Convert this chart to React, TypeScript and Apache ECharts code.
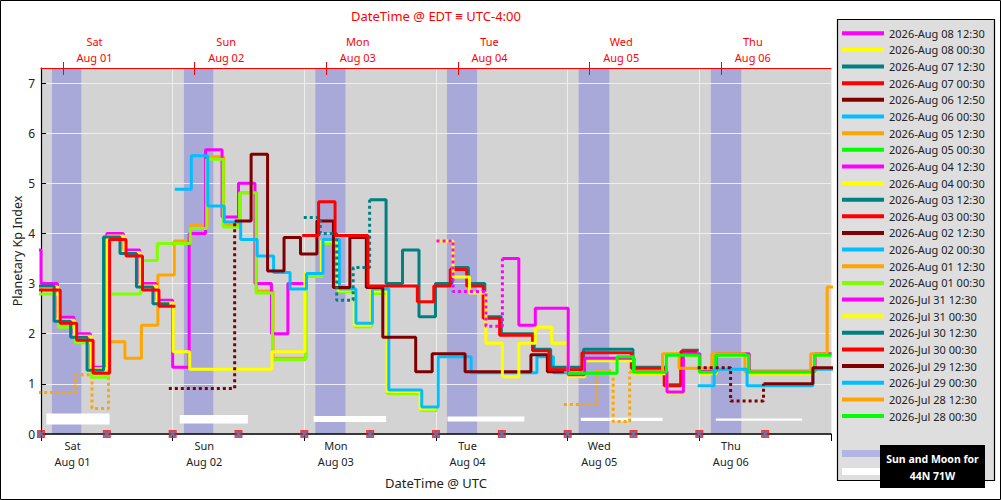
import * as echarts from 'echarts';
import { useEffect, useRef } from 'react';

const FONT = '"Noto Sans", "Open Sans", sans-serif';

// time axis: hours since 2026-Aug 01 00:00 UTC, Kp bins are 3 h wide
const X_MIN = 0;
const X_MAX = 144;
const BIN = 3;
const KP_MAX = 7.3;

const utcDayLabels = ['Sat\nAug 01', 'Sun\nAug 02', 'Mon\nAug 03', 'Tue\nAug 04', 'Wed\nAug 05', 'Thu\nAug 06'];
const utcLabelHours = [5.75, 29.75, 53.75, 77.75, 101.75, 125.75];
const edtDayLabels = ['Sat\nAug 01', 'Sun\nAug 02', 'Mon\nAug 03', 'Tue\nAug 04', 'Wed\nAug 05', 'Thu\nAug 06'];
const edtTickHours = [4, 28, 52, 76, 100, 124];
const edtLabelHours = [9.75, 33.75, 57.75, 81.75, 105.75, 129.75];
const kpTicks = [0, 1, 2, 3, 4, 5, 6, 7];

const legendNames = [
  '2026-Aug 08 12:30', '2026-Aug 08 00:30', '2026-Aug 07 12:30', '2026-Aug 07 00:30',
  '2026-Aug 06 12:50', '2026-Aug 06 00:30', '2026-Aug 05 12:30', '2026-Aug 05 00:30',
  '2026-Aug 04 12:30', '2026-Aug 04 00:30', '2026-Aug 03 12:30', '2026-Aug 03 00:30',
  '2026-Aug 02 12:30', '2026-Aug 02 00:30', '2026-Aug 01 12:30', '2026-Aug 01 00:30',
  '2026-Jul 31 12:30', '2026-Jul 31 00:30', '2026-Jul 30 12:30', '2026-Jul 30 00:30',
  '2026-Jul 29 12:30', '2026-Jul 29 00:30', '2026-Jul 28 12:30', '2026-Jul 28 00:30',
];
const legendColors = [
  '#ff00ff', '#ffff00', '#008080', '#ff0000', '#800000', '#00bfff', '#ffa500', '#00ff00',
  '#ff00ff', '#ffff00', '#008080', '#ff0000', '#800000', '#00bfff', '#ffa500', '#7fff00',
  '#ff00ff', '#ffff00', '#008080', '#ff0000', '#800000', '#00bfff', '#ffa500', '#00ff00',
];

// sun down (shaded) and moon up (white bars: start, end, low, high)
const sunBands = [[2.0, 7.35], [26.05, 31.4], [50.0, 55.5], [74.0, 79.5], [98.0, 103.6], [122.1, 127.65]];
const moonBars = [
  [0.97, 12.5, 0.19, 0.41], [25.3, 37.7, 0.21, 0.38], [49.7, 62.9, 0.24, 0.36],
  [74.1, 88.1, 0.25, 0.35], [98.4, 113.3, 0.26, 0.325], [123.0, 138.7, 0.265, 0.31],
];
const issueMarkerHours = [0, 12, 24, 36, 48, 60, 72, 84, 96, 108, 120, 132];

// forecasts: start hour of the first bin, then one Kp value per bin
const jul30_0030Start = -2.5;
const jul30_0030Kp = [2.87, 2.87, 2.21, 1.87, 1.21, 3.88, 3.55, 2.87, 2.55];

const jul30_1230Start = -3.6;
const jul30_1230Kp = [2.95, 2.95, 2.25, 1.93, 1.27, 3.93, 3.6, 2.93, 2.6];

const jul31_0030Start = -2.9;
const jul31_0030Kp = [2.93, 2.93, 2.27, 1.95, 1.3, 3.95, 3.62, 2.95, 2.62, 1.64, 1.29, 1.29, 1.29, 1.29, 1.29, 1.64, 1.64, 3.2, 3.85, 2.87, 2.17, 2.85, 0.85, 0.85, 0.5];

const jul31_1230Start = -3;
const jul31_1230Kp = [3.67, 3.0, 2.33, 2.0, 1.33, 4.0, 3.67, 3.0, 2.67, 1.33, 4.0, 5.67, 4.33, 5.0, 3.0, 2.0, 3.0];

const aug01_0030Start = -2.8;
const aug01_0030Kp = [2.79, 2.79, 2.13, 1.82, 1.13, 2.79, 2.79, 3.46, 3.8, 3.8, 4.1, 5.48, 4.13, 4.81, 2.81, 1.48, 1.48, 3.14, 3.8, 2.84, 2.14, 2.8, 0.81, 0.81, 0.47];

const aug01_1230DotStart = -2.7;
const aug01_1230DotKp = [0.83, 0.83, 0.83, 1.18, 0.51];
const aug01_1230Start = 12.3;
const aug01_1230Kp = [1.84, 1.51, 2.17, 3.17, 3.85, 4.17, 5.53, 4.17, 4.81, 2.85, 1.51, 1.51, 3.17, 3.83, 2.87, 2.17, 2.83, 0.85, 0.85, 0.5];

const aug02_0030Start = 24.4;
const aug02_0030Kp = [4.88, 5.55, 4.55, 4.23, 3.88, 3.55, 3.22, 2.89, 3.2, 3.88, 2.89, 2.21, 2.89, 0.88, 0.88, 0.54, 1.54, 1.54, 1.22, 1.22, 1.22, 1.22, 1.54, 1.22];

const aug02_1230DotStart = 23.3;
const aug02_1230DotKp = [0.91, 0.91, 0.91, 0.91];
const aug02_1230Start = 35.3;
const aug02_1230Kp = [4.25, 5.58, 3.25, 3.92, 3.59, 4.25, 2.92, 3.92, 2.92, 1.93, 1.93, 1.24, 1.6, 1.6, 1.24, 1.24, 1.24, 1.24, 1.58, 1.24];

const aug03_0030Start = 47.6;
const aug03_0030Kp = [3.96, 4.63, 3.96, 3.96, 2.95, 2.95, 2.95, 2.64, 2.95, 3.28, 2.95, 2.31, 1.97, 1.97, 1.66, 1.28, 1.28, 1.62, 1.62, 1.62, 1.31, 1.31, 0.96, 1.64];

const aug03_1230DotStart = 47.9;
const aug03_1230DotKp = [4.32, 4.0, 2.67, 3.32];
const aug03_1230Start = 59.9;
const aug03_1230Kp = [4.67, 3.0, 3.67, 2.34, 3.0, 3.32, 3.0, 2.34, 2.0, 2.0, 1.69, 1.33, 1.33, 1.69, 1.69, 1.69, 1.33, 1.33, 0.98, 1.67];

const aug04_0030Start = 72.1;
const aug04_0030Kp = [3.85, 3.13, 2.81, 1.81, 1.14, 1.81, 2.13, 1.81, 1.14, 1.46, 1.46, 1.46, 1.2, 1.2, 0.82, 1.55, 1.2, 1.55, 1.55, 1.2, 1.2, 1.2, 1.2, 1.55];

const aug04_1230DotStart = 72.1;
const aug04_1230DotKp = [3.85, 2.84, 2.84, 2.15];
const aug04_1230Start = 84.1;
const aug04_1230Kp = [3.5, 2.17, 2.51, 2.51, 1.18, 1.51, 1.51, 1.51, 1.25, 1.25, 0.84, 1.6, 1.25, 1.6, 1.6, 1.25, 1.25, 1.25, 1.25, 1.6];

const aug05_0030Start = 96;
const aug05_0030Kp = [1.21, 1.21, 1.21, 1.54, 1.23, 1.23, 1.57, 1.57, 1.23, 1.57, 1.57, 1.23, 1.23, 1.23, 1.23, 1.57];

const aug05_1230DotStart = 95.3;
const aug05_1230DotKp = [0.59, 0.59, 1.26, 0.25];
const aug05_1230Start = 107.3;
const aug05_1230Kp = [1.24, 1.24, 1.6, 1.31, 1.31, 1.6, 1.6, 1.24, 1.24, 1.24, 1.24, 1.6, 2.93];

const aug06_0030Start = 119.7;
const aug06_0030Kp = [0.96, 1.29, 1.29, 0.96, 0.96, 0.96, 0.96, 1.29, 1.29];

const aug06_1250DotStart = 119.7;
const aug06_1250DotKp = [1.32, 1.32, 0.66, 0.66];
const aug06_1250Start = 131.7;
const aug06_1250Kp = [1.0, 1.0, 1.0, 1.32, 1.32];

type Forecast = { name: string; start: number; kp: number[]; dotStart?: number; dotKp?: number[] };

// listed in drawing order (later ones on top)
const forecasts: Forecast[] = [
  { name: '2026-Aug 01 12:30', start: aug01_1230Start, kp: aug01_1230Kp, dotStart: aug01_1230DotStart, dotKp: aug01_1230DotKp },
  { name: '2026-Jul 31 12:30', start: jul31_1230Start, kp: jul31_1230Kp },
  { name: '2026-Aug 01 00:30', start: aug01_0030Start, kp: aug01_0030Kp },
  { name: '2026-Jul 31 00:30', start: jul31_0030Start, kp: jul31_0030Kp },
  { name: '2026-Jul 30 12:30', start: jul30_1230Start, kp: jul30_1230Kp },
  { name: '2026-Jul 30 00:30', start: jul30_0030Start, kp: jul30_0030Kp },
  { name: '2026-Aug 02 00:30', start: aug02_0030Start, kp: aug02_0030Kp },
  { name: '2026-Aug 02 12:30', start: aug02_1230Start, kp: aug02_1230Kp, dotStart: aug02_1230DotStart, dotKp: aug02_1230DotKp },
  { name: '2026-Aug 03 12:30', start: aug03_1230Start, kp: aug03_1230Kp, dotStart: aug03_1230DotStart, dotKp: aug03_1230DotKp },
  { name: '2026-Aug 03 00:30', start: aug03_0030Start, kp: aug03_0030Kp },
  { name: '2026-Aug 04 00:30', start: aug04_0030Start, kp: aug04_0030Kp },
  { name: '2026-Aug 04 12:30', start: aug04_1230Start, kp: aug04_1230Kp, dotStart: aug04_1230DotStart, dotKp: aug04_1230DotKp },
  { name: '2026-Aug 05 12:30', start: aug05_1230Start, kp: aug05_1230Kp, dotStart: aug05_1230DotStart, dotKp: aug05_1230DotKp },
  { name: '2026-Aug 05 00:30', start: aug05_0030Start, kp: aug05_0030Kp },
  { name: '2026-Aug 06 00:30', start: aug06_0030Start, kp: aug06_0030Kp },
  { name: '2026-Aug 06 12:50', start: aug06_1250Start, kp: aug06_1250Kp, dotStart: aug06_1250DotStart, dotKp: aug06_1250DotKp },
];

const crossSymbol = 'path://M0,0L2,0L5,3L8,0L10,0L10,2L7,5L10,8L10,10L8,10L5,7L2,10L0,10L0,8L3,5L0,2Z';

function steps(start: number, kp: number[], next?: number) {
  const pts = kp.map((v, i) => [start + i * BIN, v]);
  pts.push([start + kp.length * BIN, next ?? kp[kp.length - 1]]);
  return pts;
}

function colorOf(name: string) {
  return legendColors[legendNames.indexOf(name)];
}

export default function App() {
  const chartRef = useRef<HTMLDivElement>(null);

  useEffect(() => {
    if (!chartRef.current) return;
    const chart = echarts.init(chartRef.current, undefined, { renderer: 'svg' });

    const lineSeries: any[] = [];
    for (const f of forecasts) {
      const color = colorOf(f.name);
      if (f.dotKp && f.dotStart !== undefined) {
        lineSeries.push({
          type: 'line',
          name: f.name + ' est',
          data: steps(f.dotStart, f.dotKp, f.kp[0]),
          step: 'end',
          color,
          symbol: 'none',
          silent: true,
          lineStyle: { color, width: 3, type: [3, 3] },
        });
      }
      lineSeries.push({
        type: 'line',
        name: f.name,
        data: steps(f.start, f.kp),
        step: 'end',
        color,
        symbol: 'none',
        silent: true,
        lineStyle: { color, width: 3 },
      });
    }
    // legend entries without a visible line in this window
    for (const name of legendNames) {
      if (!forecasts.some((f) => f.name === name)) {
        lineSeries.push({ type: 'line', name, data: [], color: colorOf(name), symbol: 'none' });
      }
    }

    const axisText = { fontFamily: FONT, fontSize: 11, color: '#222' };

    chart.setOption({
      animation: false,
      textStyle: { fontFamily: FONT },
      grid: {
        left: 41,
        right: 170,
        top: 68,
        bottom: 66,
        show: true,
        backgroundColor: '#d3d3d3',
        borderWidth: 0,
        containLabel: false,
        outerBoundsMode: 'none',
      },
      legend: {
        data: legendNames,
        orient: 'vertical',
        align: 'left',
        left: 842,
        top: 27.8,
        padding: 0,
        itemGap: 5.64,
        itemWidth: 42,
        itemHeight: 4,
        icon: 'rect',
        selectedMode: false,
        formatter: '{n|{name}}',
        textStyle: {
          fontFamily: FONT,
          fontSize: 11,
          color: '#222',
          rich: { n: { width: 100, align: 'left', fontSize: 11, fontFamily: FONT, color: '#222' } },
        },
      },
      xAxis: [
        {
          type: 'value',
          position: 'bottom',
          min: X_MIN,
          max: X_MAX,
          interval: 24,
          z: 1.5,
          name: 'DateTime @ UTC',
          nameLocation: 'middle',
          nameGap: 42,
          nameTextStyle: { fontFamily: FONT, fontSize: 13, color: '#222' },
          axisLine: { show: true, onZero: false, lineStyle: { color: '#000', width: 1.5 } },
          axisTick: { show: true, length: 7, lineStyle: { color: '#000' } },
          axisLabel: {
            ...axisText,
            customValues: utcLabelHours,
            lineHeight: 16,
            margin: 3,
            formatter: (v: number) => utcDayLabels[Math.round((v - utcLabelHours[0]) / 24)] ?? '',
          },
          splitLine: { show: true, lineStyle: { color: '#eeeeee', width: 1 } },
        },
        {
          type: 'value',
          position: 'top',
          min: X_MIN,
          max: X_MAX,
          z: 1.5,
          name: 'DateTime @ EDT ≡ UTC-4:00',
          nameLocation: 'middle',
          nameGap: 46,
          nameTextStyle: { fontFamily: FONT, fontSize: 13, color: '#ff0000' },
          axisLine: { show: true, onZero: false, lineStyle: { color: '#ff0000', width: 1.2 } },
          axisTick: { show: true, length: 6, customValues: edtTickHours, lineStyle: { color: '#ff0000' } },
          axisLabel: {
            ...axisText,
            color: '#ff0000',
            customValues: edtLabelHours,
            lineHeight: 16,
            margin: 3,
            formatter: (v: number) => edtDayLabels[Math.round((v - edtLabelHours[0]) / 24)] ?? '',
          },
          splitLine: { show: false },
        },
      ],
      yAxis: {
        type: 'value',
        min: 0,
        max: KP_MAX,
        interval: 1,
        z: 1.5,
        name: 'Planetary Kp Index',
        nameLocation: 'middle',
        nameGap: 17,
        nameMoveOverlap: false,
        nameTextStyle: { fontFamily: FONT, fontSize: 12.5, color: '#222' },
        axisLine: { show: true, onZero: false, lineStyle: { color: '#000', width: 1.2 } },
        axisTick: { show: true, inside: true, length: 5, customValues: kpTicks, lineStyle: { color: '#000' } },
        axisLabel: { ...axisText, fontSize: 12, margin: 6, customValues: kpTicks },
        splitLine: { show: true, lineStyle: { color: '#eeeeee', width: 1 } },
      },
      series: [
        {
          type: 'line',
          name: 'sun',
          data: [],
          silent: true,
          markArea: {
            silent: true,
            itemStyle: { color: '#a9a9d9' },
            data: sunBands.map(([s, e]) => [{ xAxis: s }, { xAxis: e }]),
          },
          markLine: {
            silent: true,
            symbol: ['none', 'none'],
            label: { show: false },
            lineStyle: { color: '#ff0000', type: 'solid', width: 1 },
            data: edtTickHours.map((h) => [{ coord: [h, KP_MAX] }, { coord: [h, KP_MAX - 0.14] }]),
          },
        },
        {
          type: 'line',
          name: 'moon',
          data: [],
          silent: true,
          markArea: {
            silent: true,
            itemStyle: { color: '#ffffff' },
            data: moonBars.map(([s, e, lo, hi]) => [{ coord: [s, lo] }, { coord: [e, hi] }]),
          },
        },
        ...lineSeries,
        {
          type: 'scatter',
          name: 'issue',
          data: issueMarkerHours.map((h) => [h, 0]),
          symbol: 'rect',
          symbolSize: 8,
          clip: false,
          silent: true,
          z: 6,
          itemStyle: { color: '#e8141c' },
        },
        {
          type: 'scatter',
          name: 'issue-center',
          data: issueMarkerHours.map((h) => [h, 0]),
          symbol: crossSymbol,
          symbolSize: 6,
          clip: false,
          silent: true,
          z: 7,
          itemStyle: { color: '#3a8fd0' },
        },
      ],
      graphic: [
        {
          type: 'rect',
          z: -10,
          silent: true,
          shape: { x: 837.5, y: 19.5, width: 157, height: 461 },
          style: { fill: '#dedede', stroke: '#000', lineWidth: 1.2 },
        },
        { type: 'rect', silent: true, shape: { x: 842, y: 450, width: 42, height: 7 }, style: { fill: '#b4b4e4' } },
        { type: 'rect', silent: true, shape: { x: 842, y: 468, width: 42, height: 7 }, style: { fill: '#ffffff' } },
        { type: 'rect', silent: true, shape: { x: 880, y: 445, width: 105, height: 43 }, style: { fill: '#000000' } },
        {
          type: 'text',
          silent: true,
          x: 932.5,
          y: 459,
          style: {
            text: 'Sun and Moon for',
            fill: '#ffffff',
            fontFamily: FONT,
            fontSize: 10.5,
            fontWeight: 'bold',
            align: 'center',
            verticalAlign: 'middle',
          },
        },
        {
          type: 'text',
          silent: true,
          x: 932.5,
          y: 476,
          style: {
            text: '44N 71W',
            fill: '#ffffff',
            fontFamily: FONT,
            fontSize: 10.5,
            fontWeight: 'bold',
            align: 'center',
            verticalAlign: 'middle',
          },
        },
        {
          type: 'rect',
          silent: true,
          shape: { x: 0.5, y: 0.5, width: 1000, height: 499 },
          style: { fill: 'none', stroke: '#000', lineWidth: 1 },
        },
      ],
    } as any);

    return () => {
      chart.dispose();
    };
  }, []);

  return (
    <div
      ref={chartRef}
      style={{ position: 'absolute', left: 0, top: 0, width: 1001, height: 500, background: '#fff' }}
    />
  );
}
